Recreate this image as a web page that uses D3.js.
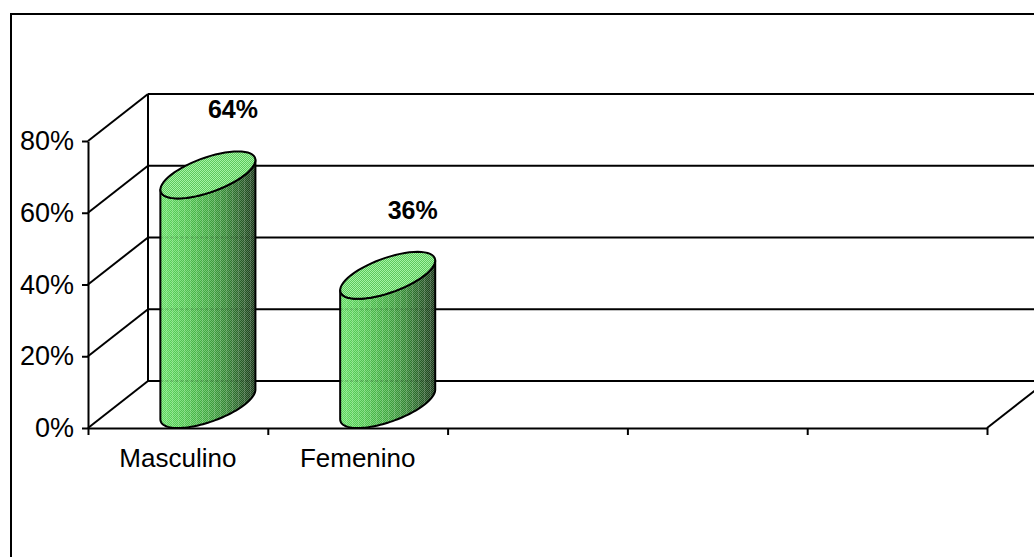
<!DOCTYPE html>
<html>
<head>
<meta charset="utf-8">
<script src="https://cdn.jsdelivr.net/npm/d3@7"></script>
<style>
  html, body { margin: 0; padding: 0; background: #fff; }
  svg { display: block; }
  text { font-family: "Liberation Sans", Arial, sans-serif; fill: #000; }
</style>
</head>
<body>
<svg id="chart" width="1034" height="557"></svg>
<script>
// Gender distribution (percent of respondents)
const categories = ["Masculino", "Femenino", "", "", ""];
const values = [64, 36, null, null, null];
const yTicks = [0, 20, 40, 60, 80];
const yTickLabels = ["0%", "20%", "40%", "60%", "80%"];

const W = 1034, H = 557;
const svg = d3.select("#chart");

// Front plane scales; the back wall is shifted by a fixed depth offset
const x = d3.scaleBand()
  .domain(d3.range(categories.length))
  .range([88, 987])
  .paddingInner(0.59)
  .paddingOuter(0.295);
const xEdges = d3.scaleLinear().domain([0, categories.length]).range([88, 987]);
const y = d3.scaleLinear().domain([0, 80]).range([428, 141]);
const depth = { dx: 60, dy: -47 };

const defs = svg.append("defs");

// body shading: bright on the left, dark on the right
const bodyGrad = defs.append("linearGradient").attr("id", "bodyGrad")
  .attr("x1", "0").attr("x2", "1").attr("y1", "0").attr("y2", "0");
[["0%", "#74f274"], ["25%", "#5fdc5f"], ["50%", "#4cbc4c"], ["68%", "#3e983e"],
 ["85%", "#2f6a2f"], ["100%", "#1f3f1f"]].forEach(([o, c]) =>
  bodyGrad.append("stop").attr("offset", o).attr("stop-color", c));

// fine dither texture
const dither = defs.append("pattern").attr("id", "dither")
  .attr("width", 2).attr("height", 2).attr("patternUnits", "userSpaceOnUse");
dither.append("rect").attr("width", 1).attr("height", 1).attr("fill", "#fff").attr("fill-opacity", 0.22);
dither.append("rect").attr("x", 1).attr("y", 1).attr("width", 1).attr("height", 1).attr("fill", "#fff").attr("fill-opacity", 0.22);
dither.append("rect").attr("x", 1).attr("width", 1).attr("height", 1).attr("fill", "#000").attr("fill-opacity", 0.14);
dither.append("rect").attr("y", 1).attr("width", 1).attr("height", 1).attr("fill", "#000").attr("fill-opacity", 0.14);

// vertical stripes on the body
const stripes = defs.append("pattern").attr("id", "stripes")
  .attr("width", 6).attr("height", 4).attr("patternUnits", "userSpaceOnUse");
stripes.append("rect").attr("x", 4).attr("width", 1).attr("height", 4).attr("fill", "#fff").attr("fill-opacity", 0.12);

// top face texture
const topPat = defs.append("pattern").attr("id", "topPat")
  .attr("width", 2).attr("height", 2).attr("patternUnits", "userSpaceOnUse");
topPat.append("rect").attr("width", 2).attr("height", 2).attr("fill", "#5cc85c");
topPat.append("rect").attr("width", 1).attr("height", 1).attr("fill", "#a4f4a4");
topPat.append("rect").attr("x", 1).attr("y", 1).attr("width", 1).attr("height", 1).attr("fill", "#a4f4a4");

// outer chart frame
svg.append("rect").attr("x", 11).attr("y", 14).attr("width", 1060).attr("height", 600)
  .attr("fill", "#fff").attr("stroke", "#000").attr("stroke-width", 2);

const grid = svg.append("g").attr("stroke", "#000").attr("stroke-width", 2).attr("fill", "none");

// back wall gridlines
grid.selectAll(".back").data(yTicks).join("line")
  .attr("x1", 88 + depth.dx).attr("x2", 987 + depth.dx)
  .attr("y1", d => y(d) + depth.dy).attr("y2", d => y(d) + depth.dy);
// back wall left edge
grid.append("line")
  .attr("x1", 88 + depth.dx).attr("x2", 88 + depth.dx)
  .attr("y1", y(80) + depth.dy).attr("y2", y(0) + depth.dy);
// side wall diagonals
grid.selectAll(".side").data(yTicks).join("line")
  .attr("x1", 88).attr("y1", d => y(d))
  .attr("x2", 88 + depth.dx).attr("y2", d => y(d) + depth.dy);
// floor right edge
grid.append("line")
  .attr("x1", 987).attr("y1", y(0))
  .attr("x2", 987 + depth.dx).attr("y2", y(0) + depth.dy);

// y axis
const yAxis = svg.append("g").attr("transform", "translate(88,0)")
  .call(d3.axisLeft(y).tickValues(yTicks)
    .tickFormat((d, i) => yTickLabels[i])
    .tickSize(6).tickSizeOuter(0).tickPadding(8));
yAxis.selectAll("path, line").attr("stroke", "#000").attr("stroke-width", 2);
yAxis.selectAll("text").attr("font-size", 27).attr("font-family", '"Liberation Sans", Arial, sans-serif').attr("fill", "#000");

// x axis (category boundaries)
const xAxis = svg.append("g").attr("transform", `translate(0,${y(0)})`)
  .call(d3.axisBottom(xEdges).tickValues(d3.range(categories.length + 1))
    .tickFormat("").tickSize(7).tickSizeOuter(0));
xAxis.selectAll("path, line").attr("stroke", "#000").attr("stroke-width", 2);

// category labels
svg.append("g").selectAll("text").data(categories).join("text")
  .attr("x", (d, i) => x(i) + x.bandwidth() / 2)
  .attr("y", 467)
  .attr("text-anchor", "middle")
  .attr("font-size", 26)
  .text(d => d);

// cylinders
const rx = x.bandwidth() / 2;
const vx = depth.dx / 2, vy = depth.dy / 2;
const t0 = Math.atan2(vx, rx);
const ell = (cx, cy, t) => [cx + rx * Math.cos(t) + vx * Math.sin(t), cy + vy * Math.sin(t)];
const N = 60;
const line = d3.line();

const bars = values.map((v, i) => ({ v, i })).filter(d => d.v != null);
const cyl = svg.append("g");
bars.forEach(({ v, i }) => {
  const cx = x(i) + rx + vx;
  const cyTop = y(v) + vy, cyBot = y(0) + vy;
  const front = d3.range(N + 1).map(k => t0 + Math.PI + Math.PI * k / N);
  const pts = front.map(t => ell(cx, cyTop, t))
    .concat(front.slice().reverse().map(t => ell(cx, cyBot, t)));
  const bodyD = line(pts) + "Z";
  cyl.append("path").attr("d", bodyD).attr("fill", "url(#bodyGrad)");
  cyl.append("path").attr("d", bodyD).attr("fill", "url(#dither)");
  cyl.append("path").attr("d", bodyD).attr("fill", "url(#stripes)");
  // gridlines faintly visible through the body
  yTicks.forEach(tk => {
    const gy = y(tk) + depth.dy;
    if (gy > cyTop && gy < cyBot) {
      cyl.append("line").attr("x1", cx - Math.hypot(rx, vx)).attr("x2", cx + Math.hypot(rx, vx))
        .attr("y1", gy).attr("y2", gy)
        .attr("stroke", "#000").attr("stroke-opacity", 0.13).attr("stroke-width", 2)
        .attr("stroke-dasharray", "3,2");
    }
  });
  cyl.append("path").attr("d", bodyD).attr("fill", "none")
    .attr("stroke", "#000").attr("stroke-width", 2).attr("stroke-linejoin", "round");
  const topPts = d3.range(N + 1).map(k => ell(cx, cyTop, 2 * Math.PI * k / N));
  cyl.append("path").attr("d", line(topPts) + "Z")
    .attr("fill", "url(#topPat)").attr("stroke", "#000").attr("stroke-width", 2);
});

// value labels
svg.append("g").selectAll("text").data(bars).join("text")
  .attr("x", d => x(d.i) + rx + 55)
  .attr("y", d => y(d.v) + depth.dy - 33)
  .attr("text-anchor", "middle")
  .attr("font-size", 25)
  .attr("font-weight", "bold")
  .text(d => d.v + "%");
</script>
</body>
</html>
